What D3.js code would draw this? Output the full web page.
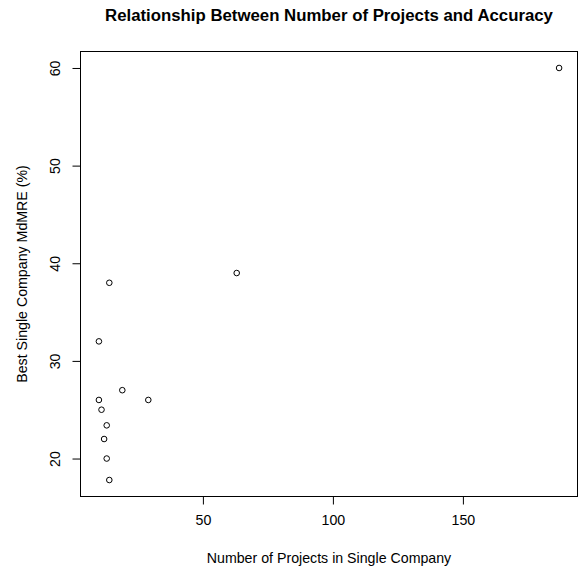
<!DOCTYPE html>
<meta charset="utf-8">
<style>
body { margin: 0; background: #fff; }
text { font-family: "Liberation Sans", Arial, sans-serif; fill: #000; }
</style>
<body>
<div id="chart"></div>
<script src="https://cdn.jsdelivr.net/npm/d3@7"></script>
<script>
// projects per company vs best MdMRE (%)
var projects = [10, 10, 11, 12, 13, 13, 14, 14, 19, 29, 63, 187];
var mdmre    = [32, 26, 25, 22, 23.4, 20, 38, 17.8, 27, 26, 39, 60];
var xTicks = [50, 100, 150];
var yTicks = [20, 30, 40, 50, 60];

var W = 579, H = 567;
var box = {left: 80.5, right: 577.5, top: 51.5, bottom: 496.5};
var fs = "14.2px";

var svg = d3.select("#chart").append("svg")
    .attr("width", W)
    .attr("height", H);

// R style: pad the data range by 4% on each side
function padded(vals) {
  var e = d3.extent(vals), d = (e[1] - e[0]) * 0.04;
  return [e[0] - d, e[1] + d];
}

var x = d3.scaleLinear().domain(padded(projects)).range([box.left, box.right]);
var y = d3.scaleLinear().domain(padded(mdmre)).range([box.bottom, box.top]);

// frame
svg.append("rect")
    .attr("x", box.left).attr("y", box.top)
    .attr("width", box.right - box.left)
    .attr("height", box.bottom - box.top)
    .attr("fill", "none").attr("stroke", "#000").attr("stroke-width", 1);

// x axis
var xa = svg.append("g")
    .attr("transform", "translate(0," + box.bottom + ")")
    .call(d3.axisBottom(x).tickValues(xTicks).tickSize(8).tickPadding(10).tickFormat(d3.format("d")));
xa.select(".domain").attr("d", "M" + x(xTicks[0]) + ",0H" + x(xTicks[xTicks.length - 1]));
xa.selectAll("text").attr("font-size", fs).attr("font-family", "Liberation Sans, Arial, sans-serif");

// y axis, labels parallel to the axis
var ya = svg.append("g")
    .attr("transform", "translate(" + box.left + ",0)")
    .call(d3.axisLeft(y).tickValues(yTicks).tickSize(8).tickFormat(d3.format("d")));
ya.select(".domain").attr("d", "M0," + y(yTicks[0]) + "V" + y(yTicks[yTicks.length - 1]));
ya.selectAll(".tick text")
    .attr("x", null).attr("dy", null)
    .attr("font-size", fs).attr("font-family", "Liberation Sans, Arial, sans-serif")
    .attr("text-anchor", "middle")
    .attr("transform", "translate(-25.5,0) rotate(-90)")
    .attr("dy", "0.35em");

// points
svg.selectAll("circle.pt")
    .data(projects)
    .enter().append("circle")
    .attr("class", "pt")
    .attr("cx", function(d) { return x(d); })
    .attr("cy", function(d, i) { return y(mdmre[i]); })
    .attr("r", 2.8)
    .attr("fill", "none")
    .attr("stroke", "#000")
    .attr("stroke-width", 1);

// title and axis titles
svg.append("text")
    .attr("x", (box.left + box.right) / 2).attr("y", 21)
    .attr("text-anchor", "middle")
    .attr("font-weight", "bold")
    .attr("font-size", "16.8px")
    .text("Relationship Between Number of Projects and Accuracy");

svg.append("text")
    .attr("x", (box.left + box.right) / 2).attr("y", 563)
    .attr("text-anchor", "middle")
    .attr("font-size", fs)
    .text("Number of Projects in Single Company");

svg.append("text")
    .attr("transform", "translate(27," + (box.top + box.bottom) / 2 + ") rotate(-90)")
    .attr("text-anchor", "middle")
    .attr("font-size", fs)
    .text("Best Single Company MdMRE (%)");
</script>
</body>
